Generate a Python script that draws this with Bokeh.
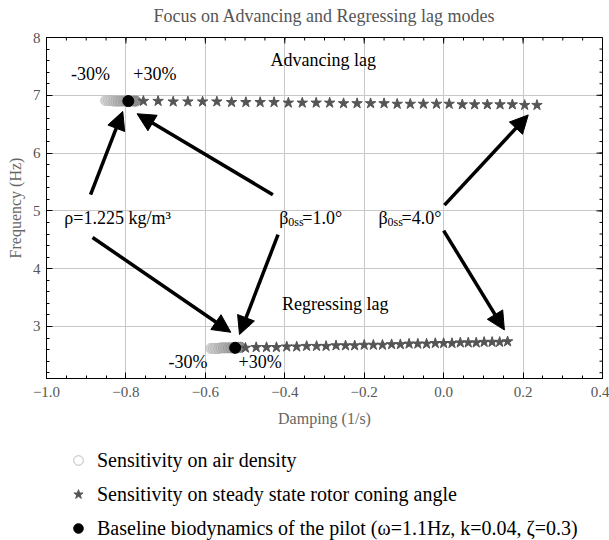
import numpy as np
from bokeh.plotting import figure
from bokeh.layouts import column
from bokeh.models import (Range1d, Label, Arrow, NormalHead, Legend, LegendItem,
                          CustomJSTickFormatter, FixedTicker)
from bokeh.embed import file_html
from bokeh.resources import INLINE

# ---------------- data ----------------
# sensitivity on air density (-30% .. +30%)
air_adv_x = [-0.851, -0.844, -0.838, -0.831, -0.825, -0.819, -0.813, -0.806, -0.800, -0.794, -0.788, -0.781, -0.775]
air_adv_y = [6.91, 6.91, 6.91, 6.90, 6.90, 6.90, 6.90, 6.90, 6.90, 6.90, 6.90, 6.90, 6.90]
air_reg_x = [-0.586, -0.580, -0.574, -0.567, -0.561, -0.555, -0.549, -0.542, -0.536, -0.530, -0.524, -0.517, -0.511]
air_reg_y = [2.62, 2.62, 2.62, 2.62, 2.63, 2.63, 2.63, 2.63, 2.63, 2.63, 2.64, 2.64, 2.64]

# sensitivity on steady state rotor coning angle (1.0 deg .. 4.0 deg)
cone_adv_x = [-0.794, -0.756, -0.719, -0.681, -0.644, -0.607, -0.571, -0.534, -0.498, -0.462,
              -0.427, -0.391, -0.356, -0.321, -0.287, -0.252, -0.218, -0.184, -0.150, -0.117,
              -0.084, -0.051, -0.018, 0.014, 0.047, 0.078, 0.110, 0.142, 0.173, 0.204, 0.235]
cone_adv_y = [6.90, 6.90, 6.90, 6.89, 6.89, 6.89, 6.89, 6.88, 6.88, 6.88,
              6.88, 6.87, 6.87, 6.87, 6.87, 6.86, 6.86, 6.86, 6.86, 6.85,
              6.85, 6.85, 6.85, 6.85, 6.84, 6.84, 6.84, 6.84, 6.84, 6.83, 6.83]
cone_reg_x = [-0.525, -0.499, -0.472, -0.446, -0.421, -0.395, -0.370, -0.345, -0.320, -0.296,
              -0.271, -0.247, -0.224, -0.200, -0.177, -0.154, -0.131, -0.109, -0.087, -0.065,
              -0.043, -0.021, 0.000, 0.021, 0.042, 0.062, 0.082, 0.102, 0.122, 0.141, 0.161]
cone_reg_y = [2.63, 2.63, 2.64, 2.64, 2.64, 2.65, 2.65, 2.66, 2.66, 2.66,
              2.67, 2.67, 2.67, 2.68, 2.68, 2.68, 2.69, 2.69, 2.70, 2.70,
              2.70, 2.71, 2.71, 2.71, 2.72, 2.72, 2.72, 2.73, 2.73, 2.73, 2.74]

# baseline biodynamics of the pilot
base_x = [-0.794, -0.525]
base_y = [6.90, 2.63]

x_ticks = [-1.0, -0.8, -0.6, -0.4, -0.2, 0.0, 0.2, 0.4]
y_ticks = [3, 4, 5, 6, 7, 8]

title_text = "Focus on Advancing and Regressing lag modes"
legend_labels = ["Sensitivity on air density",
                 "Sensitivity on steady state rotor coning angle",
                 "Baseline biodynamics of the pilot (\u03c9=1.1Hz, k=0.04, \u03b6=0.3)"]

# annotation arrows: (x_start, y_start, x_end, y_end)
arrows = [(-0.889, 5.28, -0.808, 6.72),
          (-0.884, 4.54, -0.536, 2.90),
          (-0.430, 5.28, -0.772, 6.68),
          (-0.417, 4.59, -0.514, 2.86),
          (0.002, 5.10, 0.213, 6.66),
          (0.000, 4.66, 0.153, 2.94)]

SERIF = "Liberation Serif"
X0, X1, Y0, Y1 = -1.0, 0.4, 2.1, 8.0
NAN = float("nan")

# ---------------- title strip ----------------
t = figure(width=609, height=27, x_range=Range1d(0, 1), y_range=Range1d(0, 27),
           x_axis_type=None, y_axis_type=None, output_backend="svg", toolbar_location=None,
           min_border=0)
t.outline_line_color = None
t.grid.visible = False
t.add_layout(Label(x=0.5, y=12, text=title_text, text_font=SERIF, text_font_size="18px",
                   text_color="#555555", text_align="center", text_baseline="middle"))

# ---------------- main figure ----------------
p = figure(width=609, height=407, x_range=Range1d(X0, X1), y_range=Range1d(Y0, Y1),
           output_backend="svg", toolbar_location=None,
           min_border_left=46, min_border_right=7, min_border_top=10, min_border_bottom=56)
p.outline_line_color = "black"
p.outline_line_width = 1
p.background_fill_color = "white"
p.border_fill_color = "white"

x_minor = np.round(np.arange(-1.0, 0.4001, 0.05), 2).tolist()
y_minor = np.round(np.arange(2.2, 8.0001, 0.2), 2).tolist()
p.xaxis.ticker = FixedTicker(ticks=x_ticks, minor_ticks=x_minor)
p.yaxis.ticker = FixedTicker(ticks=y_ticks, minor_ticks=y_minor)
p.xaxis.formatter = CustomJSTickFormatter(code="return tick.toFixed(1).replace('-', '\u2212');")
p.xaxis.axis_label = "Damping (1/s)"
p.yaxis.axis_label = "Frequency (Hz)"

for ax in [p.xaxis[0], p.yaxis[0]]:
    ax.major_tick_in = 6
    ax.major_tick_out = 0
    ax.minor_tick_in = 3
    ax.minor_tick_out = 0
    ax.axis_line_color = "black"
    ax.major_label_text_font = SERIF
    ax.major_label_text_font_size = "15px"
    ax.major_label_text_color = "#555555"
    ax.axis_label_text_font = SERIF
    ax.axis_label_text_font_size = "16px"
    ax.axis_label_text_font_style = "normal"
    ax.axis_label_text_color = "#666666"
p.xaxis.major_label_standoff = 8
p.xaxis.axis_label_standoff = 10
p.yaxis.major_label_standoff = 6
p.yaxis.axis_label_standoff = 6

p.xgrid.grid_line_color = "#c8c8c8"
p.ygrid.grid_line_color = "#c8c8c8"

# mirrored inward ticks on the top and right frame edges
px_x = (X1 - X0) / 556.0
px_y = (Y1 - Y0) / 341.0
tx = x_ticks + x_minor
tl = [6 * px_y] * len(x_ticks) + [3 * px_y] * len(x_minor)
p.segment(x0=tx, y0=[Y1] * len(tx), x1=tx, y1=[Y1 - l for l in tl], line_color="black", line_width=1)
ty = y_ticks + y_minor
tlx = [6 * px_x] * len(y_ticks) + [3 * px_x] * len(y_minor)
p.segment(x0=[X1] * len(ty), y0=ty, x1=[X1 - l for l in tlx], y1=ty, line_color="black", line_width=1)

# ---------------- glyphs ----------------
def grays(n, a, b):
    vals = np.linspace(a, b, n)
    return ["#%02x%02x%02x" % (int(v), int(v), int(v)) for v in vals]

p.scatter(air_adv_x, air_adv_y, marker="circle", size=10,
          fill_color=grays(len(air_adv_x), 215, 140), line_color=grays(len(air_adv_x), 195, 130))
p.scatter(air_reg_x, air_reg_y, marker="circle", size=10,
          fill_color=grays(len(air_reg_x), 215, 140), line_color=grays(len(air_reg_x), 195, 130))

p.scatter(cone_adv_x, cone_adv_y, marker="star", size=11, color="#555555")
p.scatter(cone_reg_x, cone_reg_y, marker="star", size=11, color="#555555")

p.scatter(base_x, base_y, marker="circle", size=11, color="black")

# ---------------- annotations ----------------
for (xs, ys, xe, ye) in arrows:
    p.add_layout(Arrow(end=NormalHead(size=18, fill_color="black", line_color="black", line_width=1),
                       x_start=xs, y_start=ys, x_end=xe, y_end=ye,
                       line_width=3.5, line_color="black"))

def lab(x, y, text, size="18px", align="center", xoff=0):
    p.add_layout(Label(x=x, y=y, text=text, text_font=SERIF, text_font_size=size,
                       text_color="black", text_align=align, text_baseline="middle", x_offset=xoff))

lab(-0.889, 7.37, "-30%")
lab(-0.727, 7.37, "+30%")
lab(-0.303, 7.61, "Advancing lag")
lab(-0.273, 3.39, "Regressing lag")
lab(-0.644, 2.39, "-30%")
lab(-0.462, 2.39, "+30%")
lab(-0.955, 4.885, "\u03c1=1.225 kg/m\u00b3", align="left")
for bx, txt in ((-0.414, "=1.0\u00b0"), (-0.164, "=4.0\u00b0")):
    lab(bx, 4.885, "\u03b2", align="left")
    lab(bx, 4.885 - 0.075, "0ss", size="12px", align="left", xoff=9)
    lab(bx, 4.885, txt, align="left", xoff=23)

# ---------------- legend (separate strip below) ----------------
q = figure(width=609, height=106, x_range=Range1d(0, 1), y_range=Range1d(0, 1),
           x_axis_type=None, y_axis_type=None, output_backend="svg", toolbar_location=None,
           min_border=0)
q.outline_line_color = None
q.grid.visible = False
l_air = q.scatter([NAN], [NAN], marker="circle", size=10, fill_color=None, line_color="#bbbbbb", line_width=1)
l_cone = q.scatter([NAN], [NAN], marker="star", size=11, color="#555555")
l_base = q.scatter([NAN], [NAN], marker="circle", size=11, color="black")

legend = Legend(items=[LegendItem(label=legend_labels[0], renderers=[l_air]),
                       LegendItem(label=legend_labels[1], renderers=[l_cone]),
                       LegendItem(label=legend_labels[2], renderers=[l_base])],
                location=(20, 0), orientation="vertical",
                border_line_alpha=0, background_fill_alpha=0,
                label_text_font=SERIF, label_text_font_size="20px", label_text_color="black",
                glyph_width=24, glyph_height=24, label_height=24, spacing=10,
                padding=0, margin=0, label_standoff=7)
q.add_layout(legend)

layout = column(t, p, q, spacing=0)
open("out.html", "w").write(file_html(layout, INLINE))
